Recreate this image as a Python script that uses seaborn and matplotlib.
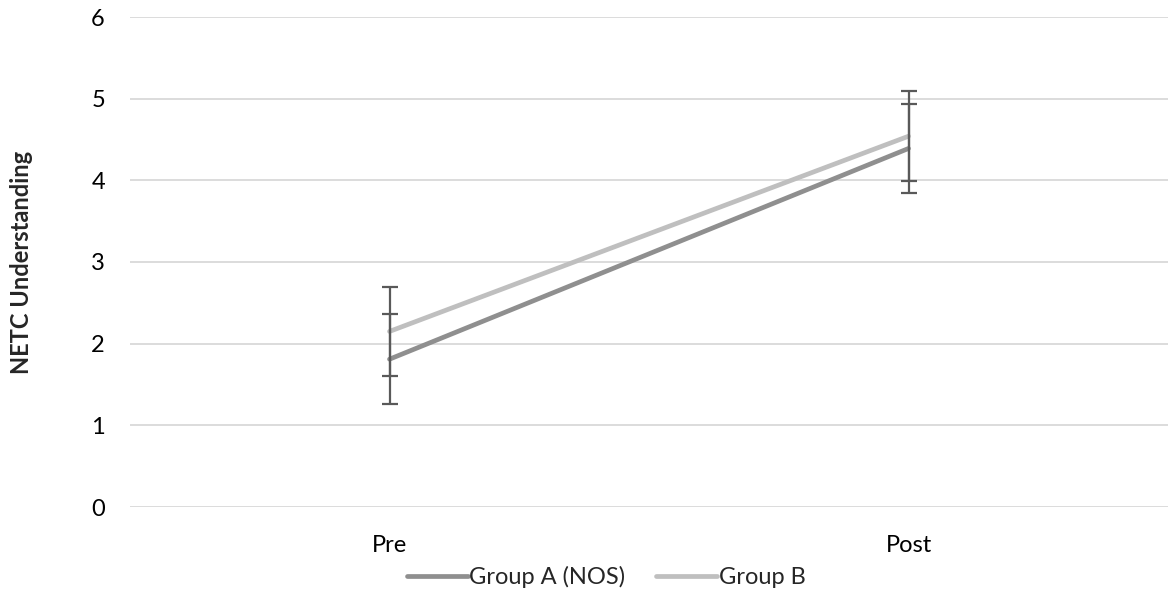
import matplotlib
matplotlib.use("Agg")
import matplotlib.pyplot as plt
import seaborn as sns
import pandas as pd

phases = ["Pre", "Post"]
series_names = ["Group A (NOS)", "Group B"]
group_a = [1.81, 4.39]
group_b = [2.15, 4.54]
err_a = [0.55, 0.55]
err_b = [0.55, 0.55]
y_ticks = [0, 1, 2, 3, 4, 5, 6]
y_label = "NETC Understanding"

colors = {"Group A (NOS)": "#8f8f8f", "Group B": "#bfbfbf"}

df = pd.DataFrame({
    "phase": phases * 2,
    "group": [series_names[0]] * 2 + [series_names[1]] * 2,
    "value": group_a + group_b,
    "err": err_a + err_b,
})

sns.set_theme(style="white")
plt.rcParams["font.family"] = ["Lato", "DejaVu Sans"]

fig = plt.figure(figsize=(11.69, 5.94), dpi=100)
ax = fig.add_axes([130 / 1169, 87 / 594, (1168 - 130) / 1169, (507 - 17) / 594])

sns.lineplot(data=df, x="phase", y="value", hue="group", palette=colors,
             sort=False, linewidth=3.4, ax=ax, legend=True, zorder=3,
             solid_capstyle="round")

for name, vals, errs in [(series_names[0], group_a, err_a), (series_names[1], group_b, err_b)]:
    ax.errorbar(phases, vals, yerr=errs, fmt="none", ecolor="#595959",
                elinewidth=1.6, capsize=6, capthick=1.6, zorder=4)

ax.set_xlim(-0.5, 1.5)
ax.set_ylim(0, 6)
ax.set_yticks(y_ticks)
ax.yaxis.grid(True, color="#d9d9d9", linewidth=1.3)
ax.xaxis.grid(False)
for s in ax.spines.values():
    s.set_visible(False)
ax.tick_params(axis="both", length=0, labelsize=17, colors="black")
ax.tick_params(axis="y", pad=18)
ax.tick_params(axis="x", pad=20)
ax.set_xlabel("")
ax.set_ylabel("")
fig.text(22 / 1169, (594 - 262) / 594, y_label, rotation=90, fontsize=17,
         fontweight="bold", ha="center", va="center")

handles, labels = ax.get_legend_handles_labels()
ax.legend_.remove()
leg = fig.legend(handles, labels, loc="center", bbox_to_anchor=(606 / 1169, 17 / 594),
                 ncol=2, frameon=False, fontsize=17, handlelength=2.6,
                 handletextpad=0.05, columnspacing=1.3, borderpad=0)

fig.savefig("out.png", dpi=100)
